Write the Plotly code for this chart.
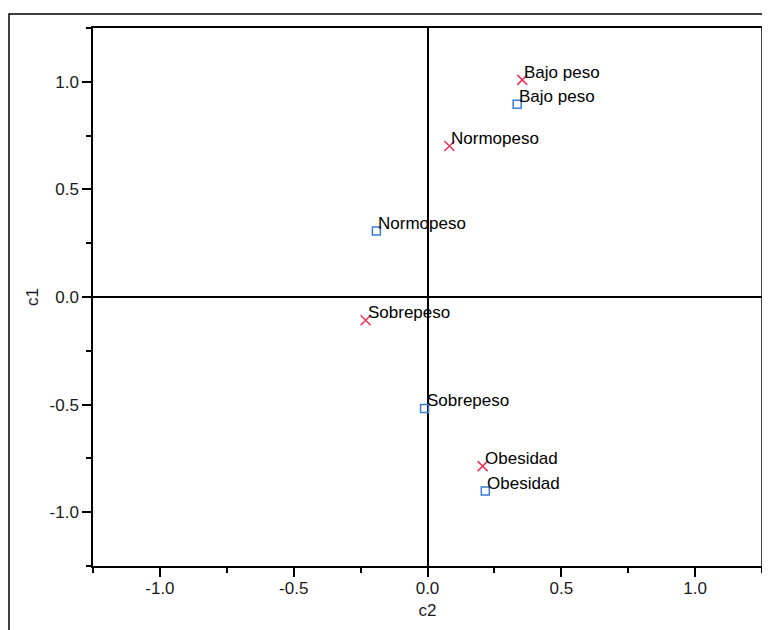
import plotly.graph_objects as go

# Data
labels = ["Bajo peso", "Normopeso", "Sobrepeso", "Obesidad"]
row_c2 = [0.354, 0.082, -0.231, 0.206]
row_c1 = [1.009, 0.702, -0.108, -0.786]
col_c2 = [0.335, -0.191, -0.011, 0.216]
col_c1 = [0.896, 0.307, -0.518, -0.902]

tick_vals = [-1.0, -0.5, 0.0, 0.5, 1.0]
tick_text = ["-1.0", "-0.5", "0.0", "0.5", "1.0"]

RED = "#e8375a"
BLUE = "#3a7be0"
FONT = "Liberation Sans, Arial, sans-serif"

fig = go.Figure()
fig.add_trace(go.Scatter(
    x=row_c2, y=row_c1, mode="markers",
    marker=dict(symbol="x-thin", size=10, line=dict(color=RED, width=1.5), color=RED),
    showlegend=False, hoverinfo="skip"))
fig.add_trace(go.Scatter(
    x=col_c2, y=col_c1, mode="markers",
    marker=dict(symbol="square-open", size=8, color=BLUE, line=dict(width=1.5)),
    showlegend=False, hoverinfo="skip"))

for xs, ys in ((row_c2, row_c1), (col_c2, col_c1)):
    for lab, xv, yv in zip(labels, xs, ys):
        fig.add_annotation(x=xv, y=yv, text=lab, showarrow=False,
                           xanchor="left", yanchor="bottom", xshift=0, yshift=-4,
                           font=dict(family=FONT, size=17, color="black"))

axis_common = dict(
    range=[-1.25, 1.25], tickmode="array", tickvals=tick_vals, ticktext=tick_text,
    ticks="outside", ticklen=9, tickwidth=1.5, tickcolor="black",
    minor=dict(tickmode="linear", tick0=0, dtick=0.25, ticks="outside",
               ticklen=5, tickwidth=1.5, tickcolor="black", showgrid=False),
    showline=True, linecolor="black", linewidth=1.5, mirror=True,
    showgrid=False, zeroline=True, zerolinecolor="black", zerolinewidth=1.5,
    tickfont=dict(family=FONT, size=17, color="#1a1a1a"),
    automargin=False,
)

fig.update_xaxes(**axis_common, ticklabelstandoff=-3,
                 title=dict(text="c2", font=dict(family=FONT, size=17, color="#1a1a1a"), standoff=7))
fig.update_yaxes(**axis_common,
                 title=dict(text="c1", font=dict(family=FONT, size=17, color="#1a1a1a"), standoff=7))

# outer frame of the chart
fig.add_shape(type="rect", xref="paper", yref="paper",
              x0=(1 - 85) / 669, x1=1.5, y0=-1.0, y1=(558 - 6) / 538,
              line=dict(color="black", width=1.5), fillcolor="rgba(0,0,0,0)", layer="below")
# right border of the plotting area
fig.add_shape(type="line", xref="paper", yref="paper", x0=1, x1=1, y0=0, y1=1,
              line=dict(color="black", width=1.5), layer="above")

fig.update_layout(
    width=760, height=622,
    margin=dict(l=85, r=6, t=20, b=64, autoexpand=False),
    paper_bgcolor="white", plot_bgcolor="white",
    font=dict(family=FONT, size=17, color="black"),
)

fig.write_html("out.html")
